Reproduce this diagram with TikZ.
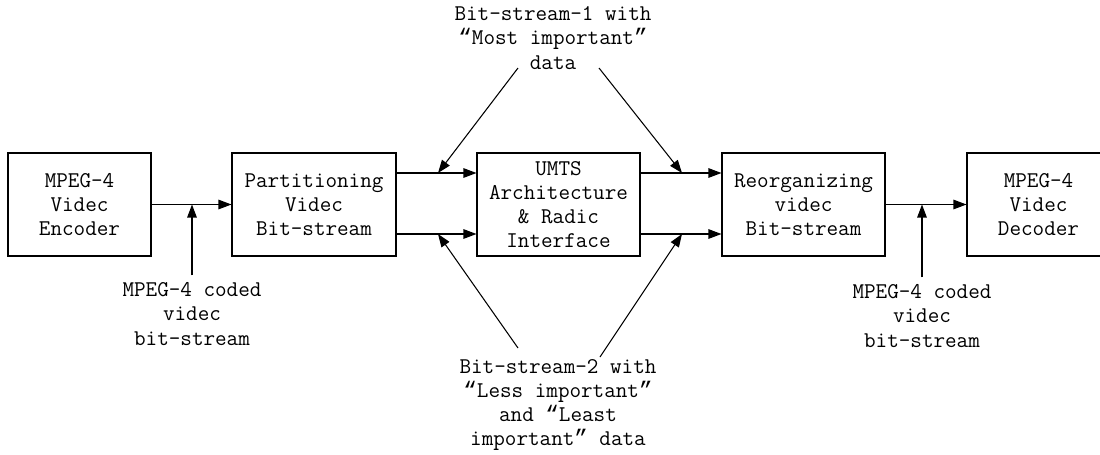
\documentclass[tikz,border=0pt]{standalone}
\usepackage{fontspec}
\newfontfamily\quotefont{Liberation Mono}
\newcommand{\oq}{{\quotefont “}}
\newcommand{\cq}{{\quotefont ”}}
\usepackage{tikz}
\usetikzlibrary{arrows.meta}

\begin{document}
\begin{tikzpicture}[
                x=0.02cm, y=-0.02cm,
                line width=0.6pt,
                every node/.style={font=\ttfamily\fontsize{12.8}{13.7}\selectfont, align=center},
                block node/.style={draw, minimum height=2.06cm, inner sep=0pt},
                text node/.style={inner sep=1pt},
                flow/.style={-{Triangle[length=0.26cm,width=0.19cm]}},
                ]
                \useasboundingbox (0,0) rectangle (1100,454);

                \node[block node, minimum width=2.86cm] (enc) at (79.5,204.5) {MPEG-4\\Videc\\Encoder};
                \node[block node, minimum width=3.28cm] (part) at (314,204.5) {Partitioning\\Videc\\Bit-stream};
                \node[block node, minimum width=3.26cm] (umts) at (558.5,204.5) {UMTS\\Architecture\\\& Radic\\Interface};
                \node[block node, minimum width=3.26cm] (reorg) at (803.5,204.5) {Reorganizing\\videc\\Bit-stream};
                \node[block node, minimum width=2.86cm] (dec) at (1038.5,204.5) {MPEG-4\\Videc\\Decoder};

                \node[text node] (top) at (553,38) {Bit-stream-1 with\\\oq Most important\cq\\data};
                \node[text node] (bot) at (558,405) {Bit-stream-2 with\\\oq Less important\cq\\and \oq Least\\important\cq{} data};
                \node[text node, inner sep=4pt] (codedl) at (192,314) {MPEG-4 coded\\videc\\bit-stream};
                \node[text node, inner sep=4pt] (codedr) at (922,316) {MPEG-4 coded\\videc\\bit-stream};

                \coordinate (a1) at (438,173);
                \coordinate (a2) at (682,173);
                \coordinate (a3) at (438,234);
                \coordinate (a4) at (682,234);
                \coordinate (t1) at (518,68);
                \coordinate (t2) at (599,68);
                \coordinate (b1) at (518,348);
                \coordinate (b2) at (600,357);

                \draw[flow] (enc) -- (part);
                \draw[flow] (reorg) -- (dec);
                \draw[flow] (part.east |- a1) -- (umts.west |- a1);
                \draw[flow] (part.east |- a3) -- (umts.west |- a3);
                \draw[flow] (umts.east |- a2) -- (reorg.west |- a2);
                \draw[flow] (umts.east |- a4) -- (reorg.west |- a4);

                \draw[flow] (codedl.north) -- (codedl.north |- enc.east);
                \draw[flow] (codedr.north) -- (codedr.north |- reorg.east);

                \draw[flow] (t1) -- (a1);
                \draw[flow] (t2) -- (a2);
                \draw[flow] (b1) -- (a3);
                \draw[flow] (b2) -- (a4);
            \end{tikzpicture}
\end{document}
